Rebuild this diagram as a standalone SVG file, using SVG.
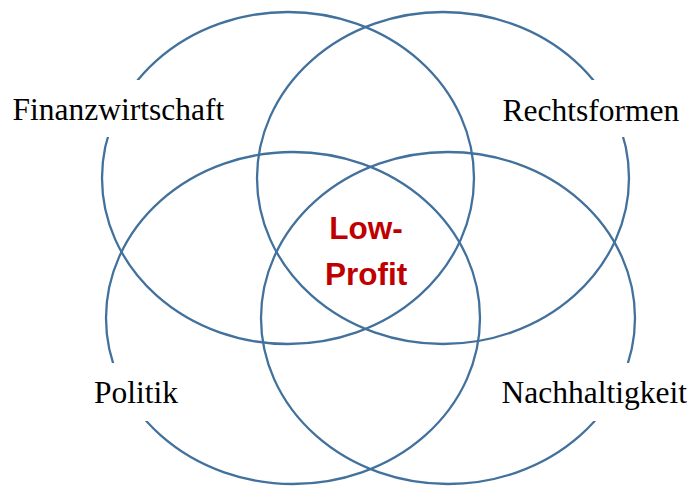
<svg xmlns="http://www.w3.org/2000/svg" width="691" height="486" viewBox="0 0 691 486">
  <style>
    .ring { fill: none; stroke: #41719C; stroke-width: 2.3; }
    .bg { fill: #FFFFFF; stroke: none; }
    .lbl { font-family: "Liberation Serif", "Times New Roman", serif; font-size: 31.5px; fill: #000000; }
    .core { font-family: "Liberation Sans", Arial, sans-serif; font-size: 31.5px; font-weight: bold; fill: #C00000; text-anchor: middle; }
  </style>
  <rect width="691" height="486" fill="#FFFFFF"/>
  <g id="node-finanzwirtschaft">
    <ellipse class="ring" cx="288" cy="178" rx="186" ry="166"/>
    <rect class="bg" x="6" y="80" width="226" height="57"/>
    <text class="lbl" x="12.5" y="120">Finanzwirtschaft</text>
  </g>
  <g id="node-rechtsformen">
    <ellipse class="ring" cx="443" cy="178" rx="186" ry="166"/>
    <rect class="bg" x="496" y="80" width="190" height="57"/>
    <text class="lbl" x="502.5" y="120.5">Rechtsformen</text>
  </g>
  <g id="node-politik">
    <ellipse class="ring" cx="293" cy="318" rx="187" ry="166"/>
    <rect class="bg" x="88" y="363" width="96" height="58"/>
    <text class="lbl" x="94" y="403">Politik</text>
  </g>
  <g id="node-nachhaltigkeit">
    <ellipse class="ring" cx="448" cy="318" rx="187" ry="166"/>
    <rect class="bg" x="495" y="363" width="196" height="58"/>
    <text class="lbl" x="501.5" y="403">Nachhaltigkeit</text>
  </g>
  <g id="node-lowprofit">
    <text class="core" x="366" y="239">Low-</text>
    <text class="core" x="366" y="285">Profit</text>
  </g>
  <g id="connectors"></g>
</svg>
